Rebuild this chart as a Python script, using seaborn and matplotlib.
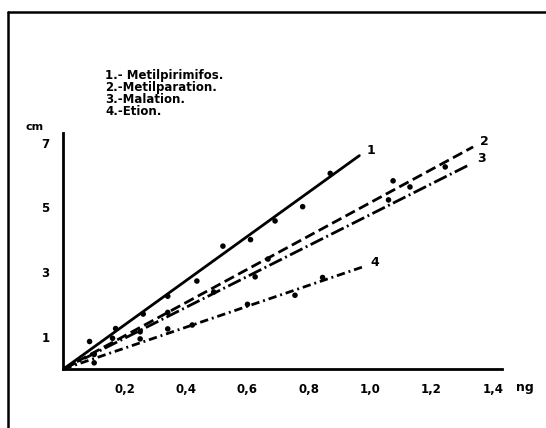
import numpy as np
import pandas as pd
import matplotlib
matplotlib.use("Agg")
import matplotlib.pyplot as plt
from matplotlib.lines import Line2D
import seaborn as sns

# Calibration data: peak height (cm) against injected amount (ng)
names = ["1.- Metilpirimifos.", "2.-Metilparation.", "3.-Malation.", "4.-Etion."]
curve_ids = ["1", "2", "3", "4"]

x_metilpirimifos = [0.085, 0.17, 0.26, 0.34, 0.435, 0.52, 0.61, 0.69, 0.78, 0.87]
y_metilpirimifos = [0.85, 1.25, 1.70, 2.25, 2.72, 3.80, 4.00, 4.58, 5.02, 6.05]

x_metilparation = [0.16, 0.34, 0.667, 1.075, 1.245]
y_metilparation = [0.95, 1.75, 3.40, 5.82, 6.25]

x_malation = [0.10, 0.25, 0.49, 0.625, 1.06, 1.13]
y_malation = [0.45, 1.15, 2.38, 2.85, 5.23, 5.63]

x_etion = [0.10, 0.25, 0.34, 0.42, 0.60, 0.755, 0.845]
y_etion = [0.19, 0.93, 1.24, 1.36, 2.00, 2.28, 2.83]

# Calibration lines, drawn from the origin to their end points
line_end_x = [0.965, 1.336, 1.32, 0.977]
line_end_y = [6.60, 6.87, 6.30, 3.16]

x_ticks = [0.2, 0.4, 0.6, 0.8, 1.0, 1.2, 1.4]
x_ticklabels = ["0,2", "0,4", "0,6", "0,8", "1,0", "1,2", "1,4"]
y_ticks = [1, 3, 5, 7]
y_ticklabels = ["1", "3", "5", "7"]

points = pd.concat([
    pd.DataFrame({"ng": x_metilpirimifos, "cm": y_metilpirimifos, "curve": "1"}),
    pd.DataFrame({"ng": x_metilparation, "cm": y_metilparation, "curve": "2"}),
    pd.DataFrame({"ng": x_malation, "cm": y_malation, "curve": "3"}),
    pd.DataFrame({"ng": x_etion, "cm": y_etion, "curve": "4"}),
], ignore_index=True)

lines = pd.DataFrame({
    "ng": [v for ex in line_end_x for v in (0.0, ex)],
    "cm": [v for ey in line_end_y for v in (0.0, ey)],
    "curve": [c for c in curve_ids for _ in range(2)],
})

sns.set_style("white")
plt.rcParams["font.family"] = ["DejaVu Sans"]
plt.rcParams["font.weight"] = "bold"
plt.rcParams["text.color"] = "black"
plt.rcParams["xtick.color"] = "black"
plt.rcParams["ytick.color"] = "black"
plt.rcParams["axes.labelcolor"] = "black"

fig = plt.figure(figsize=(5.46, 4.28), dpi=100)
ax = fig.add_axes([0.1163, 0.1379, 0.803, 0.5514])

dash_styles = {"1": "", "2": (3.8, 1.7), "3": (5.0, 1.3, 0.7, 1.3), "4": (3.0, 1.4, 0.7, 1.4)}
sns.lineplot(data=lines, x="ng", y="cm", hue="curve", style="curve",
             dashes=dash_styles, palette=["black"] * 4, linewidth=2.0,
             legend=False, ax=ax, estimator=None, sort=False)
sns.scatterplot(data=points, x="ng", y="cm", color="black", s=16,
                edgecolor="none", legend=False, ax=ax, zorder=3)

# Curve numbers at the ends of the lines
label_pos = [(0.99, 6.75), (1.36, 7.03), (1.35, 6.52), (1.0, 3.28)]
for cid, (lx, ly) in zip(curve_ids, label_pos):
    ax.text(lx, ly, cid, fontsize=9, fontweight="heavy", ha="left", va="center",
            color="black")

ax.set_xlim(0, 1.43)
ax.set_ylim(0, 7.3)
ax.set_xticks(x_ticks)
ax.set_xticklabels(x_ticklabels, fontsize=8.5, fontweight="heavy")
ax.set_xticks(np.arange(0.1, 1.41, 0.2), minor=True)
ax.set_yticks(y_ticks)
ax.set_yticklabels(y_ticklabels, fontsize=8.5, fontweight="heavy")
ax.set_yticks([2, 4, 6], minor=True)
ax.tick_params(axis="x", which="both", direction="in", length=3, width=1.2, pad=10)
ax.tick_params(axis="y", which="both", direction="out", length=2, width=1.2, pad=8)
ax.set_xlabel("")
ax.set_ylabel("")
for side in ("top", "right"):
    ax.spines[side].set_visible(False)
for side in ("left", "bottom"):
    ax.spines[side].set_linewidth(2.0)
    ax.spines[side].set_color("black")

# Axis units
fig.text(525 / 546, 1 - 388 / 428, "ng", fontsize=9, fontweight="heavy", ha="center", va="center")
fig.text(35 / 546, 1 - 127 / 428, "cm", fontsize=8, fontweight="heavy", ha="center", va="center")

# Key of the compounds
for i, name in enumerate(names):
    fig.text(105 / 546, 1 - (75 + 12.3 * i) / 428, name, fontsize=8.5,
             fontweight="heavy", ha="left", va="center")

# Frame around the figure
fig.add_artist(Line2D([8 / 546, 8 / 546], [0, 1 - 12 / 428], color="black", linewidth=1.8,
                      transform=fig.transFigure))
fig.add_artist(Line2D([8 / 546, 1], [1 - 12 / 428, 1 - 12 / 428], color="black", linewidth=1.8,
                      transform=fig.transFigure))

fig.savefig("out.png", dpi=100, facecolor="white")
